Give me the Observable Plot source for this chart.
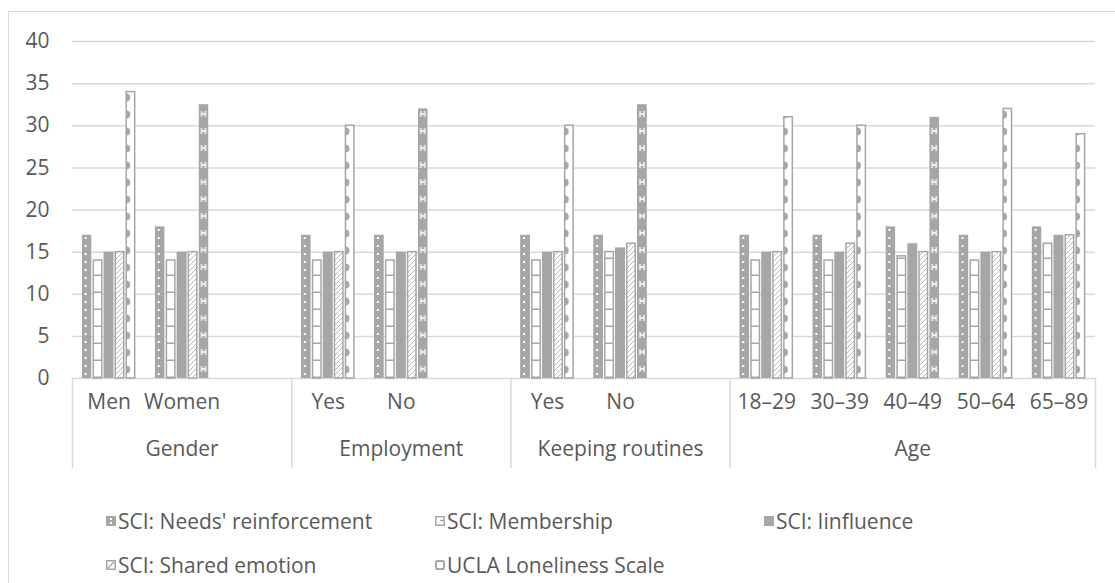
<!DOCTYPE html>
<html>
<head>
<meta charset="utf-8">
<script src="https://cdn.jsdelivr.net/npm/d3@7"></script>
<script src="https://cdn.jsdelivr.net/npm/@observablehq/plot@0.6"></script>
<style>
  html, body { margin: 0; padding: 0; background: #fff; }
  body { width: 1115px; height: 583px; overflow: hidden; position: relative;
         font-family: "Open Sans", sans-serif; color: #595959; }
  #chart { position: absolute; left: 0; top: 0; }
  #frame { position: absolute; left: 8px; top: 11px; width: 1130px; height: 620px;
           border: 1px solid #d9d9d9; box-sizing: border-box; z-index: 2; pointer-events: none; }
  #legend { position: absolute; left: 106px; top: 507px; display: grid;
            grid-template-columns: 329px 329px 329px; row-gap: 16px;
            font-size: 21px; line-height: 28px; }
  .item { display: flex; align-items: center; white-space: nowrap; }
  .item svg { margin-right: 2px; flex: none; }
</style>
</head>
<body>
<svg width="0" height="0" style="position:absolute"><defs id="pattern-defs"></defs></svg>
<div id="chart"></div>
<div id="frame"></div>
<div id="legend"></div>
<script>
// ---- data ----
const groupNames = ["Gender", "Employment", "Keeping routines", "Age"];
const categoryLabels = ["Men", "Women", "Yes", "No", "Yes", "No", "18–29", "30–39", "40–49", "50–64", "65–89"];
const categoryGroups = ["Gender", "Gender", "Employment", "Employment", "Keeping routines", "Keeping routines",
                        "Age", "Age", "Age", "Age", "Age"];
const seriesNames = ["SCI: Needs' reinforcement", "SCI: Membership", "SCI: Iinfluence",
                     "SCI: Shared emotion", "UCLA Loneliness Scale"];
const needsReinforcement = [17, 18, 17, 17, 17, 17, 17, 17, 18, 17, 18];
const membership         = [14, 14, 14, 14, 14, 15, 14, 14, 14.5, 14, 16];
const influence          = [15, 15, 15, 15, 15, 15.5, 15, 15, 16, 15, 17];
const sharedEmotion      = [15, 15, 15, 15, 15, 16, 15, 16, 15, 15, 17];
const uclaLoneliness     = [34, 32.5, 30, 32, 30, 32.5, 31, 30, 31, 32, 29];
const yTicks = [0, 5, 10, 15, 20, 25, 30, 35, 40];

const seriesValues = [needsReinforcement, membership, influence, sharedEmotion, uclaLoneliness];

// one row per category, keyed by group so repeated labels stay distinct
const rows = categoryLabels.map((label, i) => ({
  slot: `${categoryGroups[i]}|${label}`,
  label,
  group: categoryGroups[i],
  values: seriesValues.map(s => s[i])
}));

// category slots along x: each group's categories, with an empty slot after every group but the last
const slotKeys = [];
const groupSpans = groupNames.map((g, gi) => {
  const keys = rows.filter(r => r.group === g).map(r => r.slot);
  if (gi < groupNames.length - 1) keys.push(`${g}|`);
  slotKeys.push(...keys);
  return {name: g, keys, mid: keys[Math.floor(keys.length / 2)]};
});

// ---- layout ----
const W = 1115, H = 490;
const mL = 72, mR = 20, mT = 41, mB = 112;
const GRAY = "#a6a6a6", GRID = "#d9d9d9";

const xScale = Plot.scale({x: {type: "band", domain: slotKeys, range: [mL, W - mR], padding: 0, round: false}});
const yScale = Plot.scale({y: {type: "linear", domain: [0, 40], range: [H - mB, mT]}});
const B = xScale.bandwidth;
const pitch = B * 0.15;                 // one bar per series, side by side
const clusterPad = (B - 5 * pitch) / 2;
const gap = 1;
const stroked = [false, true, false, true, true];
const strokeInset = i => (stroked[i] ? 0.75 : 0);
const insetL = i => clusterPad + i * pitch + gap / 2 + strokeInset(i);
const insetR = i => clusterPad + (4 - i) * pitch + gap / 2 + strokeInset(i);
const barW = i => pitch - gap - 2 * strokeInset(i);
const x0 = xScale.apply(slotKeys[0]);
const y0 = yScale.apply(0);

// loneliness bars drawn with the dark variant of their hatch
const darkLonelinessSlots = new Set(["Gender|Women", "Employment|No", "Keeping routines|No", "Age|40–49"]);

// ---- fill patterns, tiled so each one lines up with its own bar column ----
const defs = d3.select("#pattern-defs");
function columnPattern(id, i, cellH, shift = 0) {
  return defs.append("pattern").attr("id", id)
    .attr("patternUnits", "userSpaceOnUse")
    .attr("x", x0 + insetL(i) - shift).attr("y", y0)
    .attr("width", B).attr("height", cellH);
}
// dotted grey
{
  const p = columnPattern("fill-0", 0, 8), w = barW(0);
  p.append("rect").attr("width", w).attr("height", 8).attr("fill", GRAY);
  p.append("rect").attr("x", w * 0.4 - 1).attr("y", 3).attr("width", 2).attr("height", 2).attr("fill", "#fff");
}
// white with horizontal rungs
{
  const p = columnPattern("fill-1", 1, 17), w = barW(1);
  p.append("rect").attr("width", w).attr("height", 17).attr("fill", "#fff");
  p.append("line").attr("x1", 0).attr("x2", w).attr("y1", 16.25).attr("y2", 16.25)
    .attr("stroke", GRAY).attr("stroke-width", 1.5);
}
// light diagonal hatch
{
  const p = defs.append("pattern").attr("id", "fill-3").attr("patternUnits", "userSpaceOnUse")
    .attr("width", 5).attr("height", 5);
  p.append("rect").attr("width", 5).attr("height", 5).attr("fill", "#fff");
  p.append("path").attr("d", "M-1,6 L6,-1 M-1,1 L1,-1 M4,6 L6,4")
    .attr("stroke", "#b8b8b8").attr("stroke-width", 1);
}
// white with scalloped edge
{
  const p = columnPattern("fill-4", 4, 17), w = barW(4);
  p.append("rect").attr("width", w).attr("height", 17).attr("fill", "#fff");
  p.append("path").attr("d", "M0,4.5 a4,4 0 0 1 0,8 Z").attr("fill", GRAY);
}
// grey with small white "H" marks
{
  const p = columnPattern("fill-4d", 4, 17, 0.75), w = barW(4) + 1.5;
  p.append("rect").attr("width", w).attr("height", 17).attr("fill", GRAY);
  p.append("path").attr("d", "M3,5 v6 M7,5 v6 M3,8 h4")
    .attr("stroke", "#fff").attr("stroke-width", 1.3).attr("fill", "none");
}
const fills = ["url(#fill-0)", "url(#fill-1)", GRAY, "url(#fill-3)", "url(#fill-4)"];

// ---- chart ----
const barMarks = seriesNames.slice(0, 4).map((name, i) => Plot.barY(rows, {
  x: "slot",
  y: d => d.values[i],
  fill: fills[i],
  stroke: stroked[i] ? GRAY : null,
  strokeWidth: 1.5,
  insetLeft: insetL(i),
  insetRight: insetR(i)
}));
barMarks.push(
  Plot.barY(rows.filter(d => !darkLonelinessSlots.has(d.slot)), {
    x: "slot", y: d => d.values[4], fill: fills[4], stroke: GRAY, strokeWidth: 1.5,
    insetLeft: insetL(4), insetRight: insetR(4)
  }),
  Plot.barY(rows.filter(d => darkLonelinessSlots.has(d.slot)), {
    x: "slot", y: d => d.values[4], fill: "url(#fill-4d)",
    insetLeft: insetL(4) - 0.75, insetRight: insetR(4) - 0.75
  })
);

const groupStarts = groupSpans.map(g => g.keys[0]);
const lastSlot = slotKeys[slotKeys.length - 1];

const chart = Plot.plot({
  width: W,
  height: H,
  marginLeft: mL,
  marginRight: mR,
  marginTop: mT,
  marginBottom: mB,
  x: {type: "band", domain: slotKeys, padding: 0, round: false, axis: null},
  y: {domain: [0, 40], axis: null},
  style: {
    fontFamily: '"Open Sans", sans-serif',
    fontSize: "21px",
    color: "#595959",
    background: "transparent",
    overflow: "visible"
  },
  marks: [
    Plot.ruleY(yTicks, {stroke: GRID, strokeWidth: 1.5}),
    Plot.text(yTicks, {y: d => d, text: d => String(d), frameAnchor: "left", textAnchor: "end", dx: -23}),
    // group dividers below the category axis
    Plot.ruleX(groupStarts, {x: d => d, y1: 0, y2: 0, insetBottom: -90, dx: -B / 2, stroke: GRID, strokeWidth: 1.5}),
    Plot.ruleX([lastSlot], {x: d => d, y1: 0, y2: 0, insetBottom: -90, dx: B / 2, stroke: GRID, strokeWidth: 1.5}),
    ...barMarks,
    Plot.text(rows, {x: "slot", text: "label", frameAnchor: "bottom", dy: 30}),
    Plot.text(groupSpans, {x: "mid", text: "name", frameAnchor: "bottom", dy: 77})
  ]
});
document.getElementById("chart").appendChild(chart);

// ---- legend ----
function swatch(sel, i) {
  const s = sel.append("svg").attr("width", 10).attr("height", 10);
  if (i === 0) {
    s.append("rect").attr("width", 10).attr("height", 10).attr("fill", GRAY);
    s.append("rect").attr("x", 4).attr("y", 2).attr("width", 2).attr("height", 2).attr("fill", "#fff");
    s.append("rect").attr("x", 4).attr("y", 6).attr("width", 2).attr("height", 2).attr("fill", "#fff");
  } else if (i === 1) {
    s.append("rect").attr("x", 0.75).attr("y", 0.75).attr("width", 8.5).attr("height", 8.5)
      .attr("fill", "#fff").attr("stroke", GRAY).attr("stroke-width", 1.5);
    s.append("line").attr("x1", 5).attr("x2", 9).attr("y1", 4.5).attr("y2", 4.5)
      .attr("stroke", GRAY).attr("stroke-width", 1.5);
  } else if (i === 2) {
    s.append("rect").attr("width", 10).attr("height", 10).attr("fill", GRAY);
  } else if (i === 3) {
    s.append("rect").attr("x", 0.75).attr("y", 0.75).attr("width", 8.5).attr("height", 8.5)
      .attr("fill", "#fff").attr("stroke", GRAY).attr("stroke-width", 1.5);
    s.append("path").attr("d", "M2,8 L8,2").attr("stroke", GRAY).attr("stroke-width", 1.5);
  } else {
    s.append("rect").attr("x", 1).attr("y", 1).attr("width", 8).attr("height", 8).attr("rx", 1.5)
      .attr("fill", "#fff").attr("stroke", GRAY).attr("stroke-width", 2);
  }
}
const legend = d3.select("#legend");
seriesNames.forEach((name, i) => {
  const item = legend.append("div").attr("class", "item");
  swatch(item, i);
  item.append("span").text(name);
});
</script>
</body>
</html>
